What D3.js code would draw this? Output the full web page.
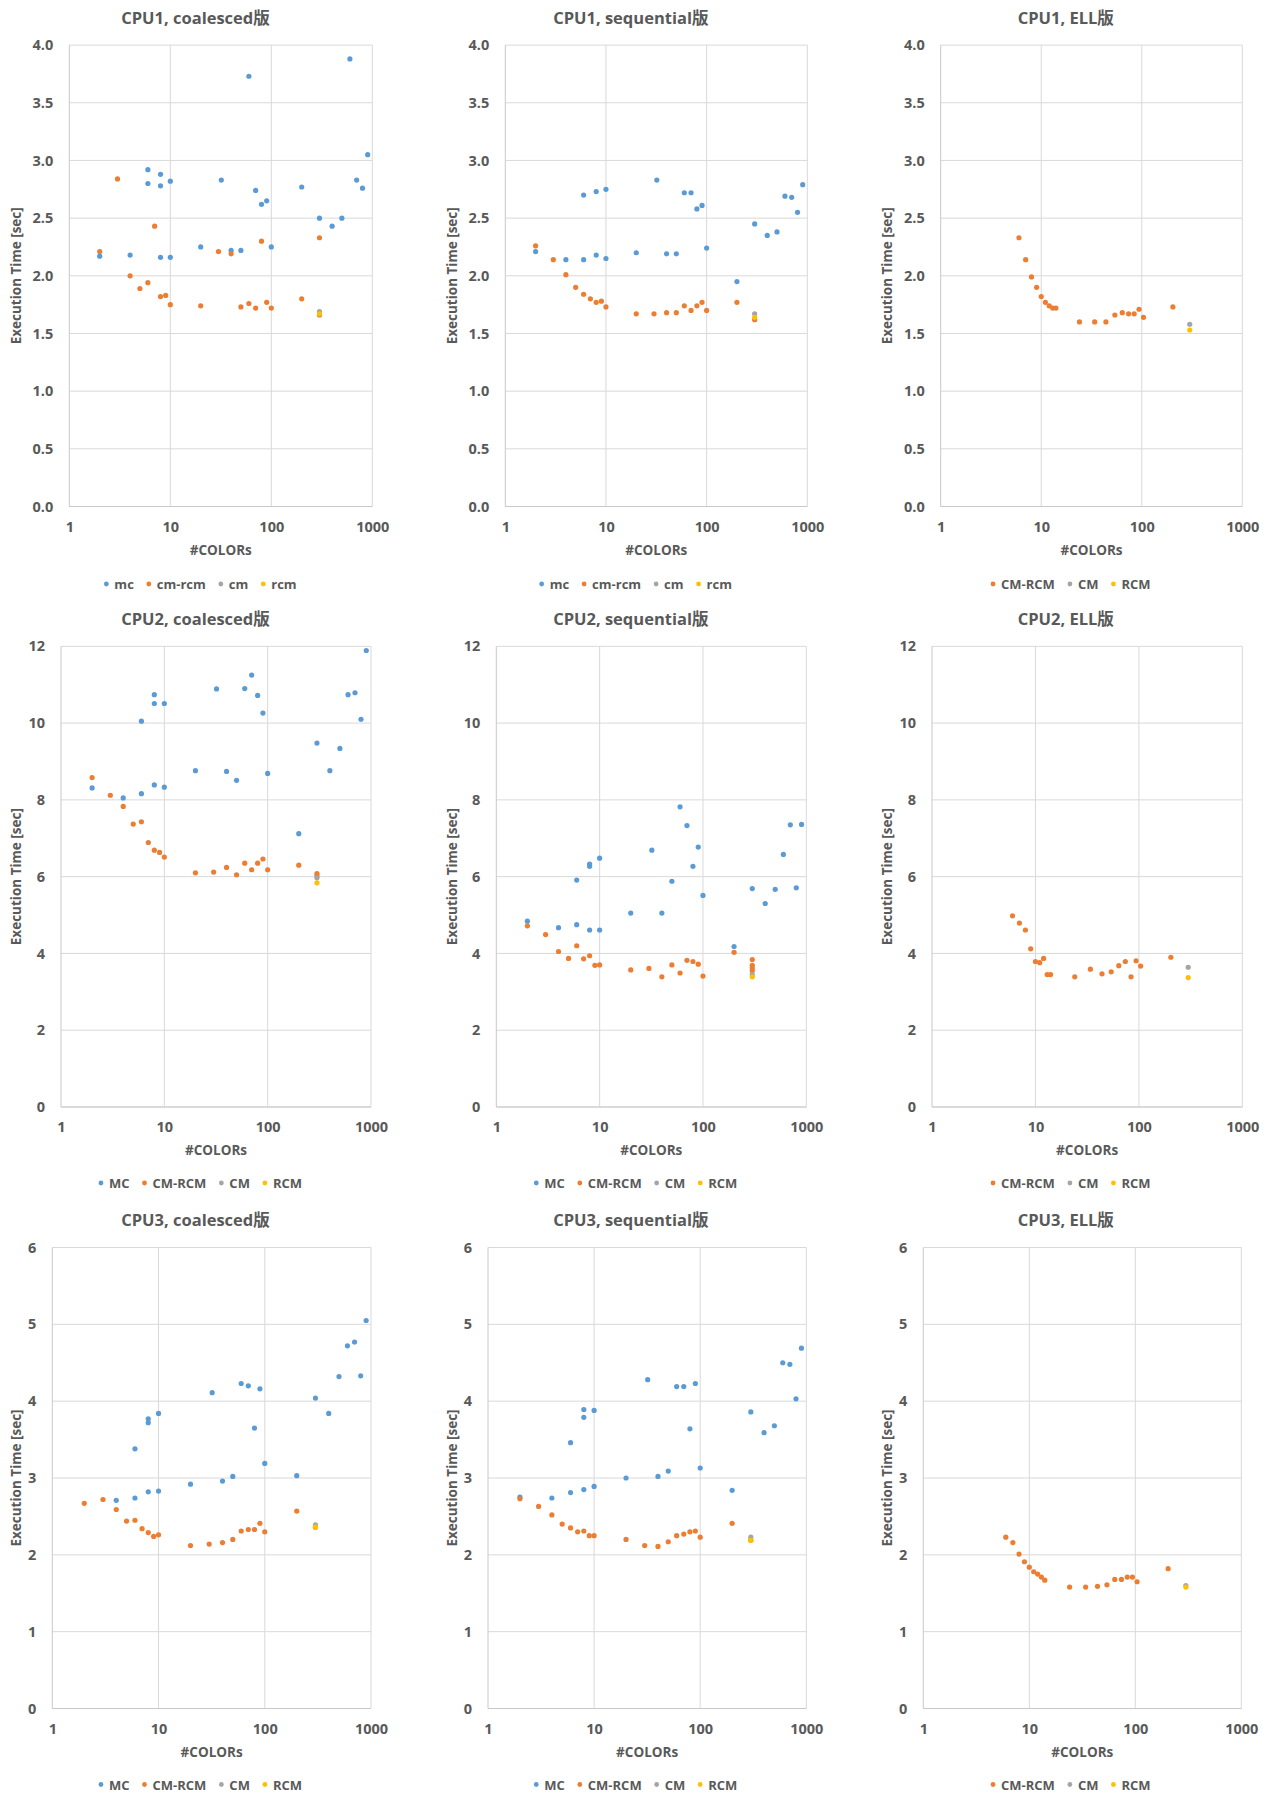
<!DOCTYPE html>
<html>
<head>
<meta charset="utf-8">
<script src="https://cdn.jsdelivr.net/npm/d3@7"></script>
<style>
  body { margin: 0; background: #fff; }
  text { font-family: "Open Sans", "Noto Sans CJK JP", sans-serif; font-weight: bold; fill: #595959; }
</style>
</head>
<body>
<svg id="chart" width="1271" height="1796"></svg>
<script>
// ---- x values (#COLORs) ----
let mcX = [2, 4, 6, 6, 8, 8, 8, 10, 10, 20, 32, 40, 50, 60, 70, 80, 90, 100, 200, 300, 400, 500, 600, 700, 800, 900];
let mcXseq1 = [2, 4, 6, 6, 8, 8, 10, 10, 20, 32, 40, 50, 60, 70, 80, 90, 100, 200, 300, 400, 500, 600, 700, 800, 900];
let mcXcoal3 = [4, 6, 6, 8, 8, 8, 10, 10, 20, 32, 40, 50, 60, 70, 80, 90, 100, 200, 300, 400, 500, 600, 700, 800, 900];
let cmRcmX = [2, 3, 4, 5, 6, 7, 8, 9, 10, 20, 30, 40, 50, 60, 70, 80, 90, 100, 200, 300];
let ellX = [6, 7, 8, 9, 10, 11, 12, 13, 14, 24, 34, 44, 54, 64, 74, 84, 94, 104, 204];
let singleX = [300];

// ---- CPU1 ----
let cpu1CoalMc = [2.17, 2.18, 2.92, 2.80, 2.88, 2.78, 2.16, 2.82, 2.16, 2.25, 2.83, 2.22, 2.22, 3.73, 2.74, 2.62, 2.65, 2.25, 2.77, 2.50, 2.43, 2.50, 3.88, 2.83, 2.76, 3.05];
let cpu1CoalCmRcm = [2.21, 2.84, 2.00, 1.89, 1.94, 2.43, 1.82, 1.83, 1.75, 1.74, 2.21, 2.19, 1.73, 1.76, 1.72, 2.30, 1.77, 1.72, 1.80, 2.33];
let cpu1CoalCmRcm300 = [1.66];
let cpu1CoalCm = [1.69];
let cpu1CoalRcm = [1.67];

let cpu1SeqMc = [2.21, 2.14, 2.70, 2.14, 2.73, 2.18, 2.75, 2.15, 2.20, 2.83, 2.19, 2.19, 2.72, 2.72, 2.58, 2.61, 2.24, 1.95, 2.45, 2.35, 2.38, 2.69, 2.68, 2.55, 2.79];
let cpu1SeqCmRcm = [2.26, 2.14, 2.01, 1.90, 1.84, 1.80, 1.77, 1.78, 1.73, 1.67, 1.67, 1.68, 1.68, 1.74, 1.70, 1.74, 1.77, 1.70, 1.77, 1.62];
let cpu1SeqCm = [1.67];
let cpu1SeqRcm = [1.64];

let cpu1EllCmRcm = [2.33, 2.14, 1.99, 1.90, 1.82, 1.77, 1.74, 1.72, 1.72, 1.60, 1.60, 1.60, 1.66, 1.68, 1.67, 1.67, 1.71, 1.64, 1.73];
let cpu1EllCm = [1.58];
let cpu1EllRcm = [1.53];

// ---- CPU2 ----
let cpu2CoalMc = [8.31, 8.05, 10.05, 8.16, 10.74, 10.51, 8.39, 10.51, 8.33, 8.76, 10.89, 8.74, 8.51, 10.90, 11.25, 10.72, 10.26, 8.69, 7.12, 9.48, 8.76, 9.34, 10.74, 10.79, 10.10, 11.89];
let cpu2CoalCmRcm = [8.58, 8.12, 7.83, 7.37, 7.43, 6.89, 6.69, 6.63, 6.51, 6.10, 6.12, 6.24, 6.05, 6.35, 6.18, 6.35, 6.46, 6.18, 6.30, 6.08];
let cpu2CoalCmRcm300 = [6.02];
let cpu2CoalCm = [5.97];
let cpu2CoalRcm = [5.84];

let cpu2SeqMc = [4.84, 4.67, 5.91, 4.75, 6.33, 6.27, 4.61, 6.48, 4.61, 5.05, 6.69, 5.05, 5.88, 7.82, 7.33, 6.27, 6.77, 5.51, 4.18, 5.69, 5.30, 5.67, 6.58, 7.35, 5.71, 7.36];
let cpu2SeqCmRcm = [4.72, 4.49, 4.05, 3.87, 4.20, 3.86, 3.94, 3.69, 3.70, 3.57, 3.61, 3.39, 3.70, 3.49, 3.82, 3.79, 3.72, 3.41, 4.03, 3.84];
let cpu2SeqCmRcm300 = [3.69, 3.62, 3.55];
let cpu2SeqCm = [3.45];
let cpu2SeqRcm = [3.39];

let cpu2EllCmRcm = [4.98, 4.79, 4.61, 4.12, 3.79, 3.76, 3.87, 3.45, 3.45, 3.39, 3.59, 3.47, 3.52, 3.68, 3.79, 3.39, 3.81, 3.67, 3.90];
let cpu2EllCm = [3.64];
let cpu2EllRcm = [3.37];

// ---- CPU3 ----
let cpu3CoalMc = [2.71, 3.38, 2.74, 3.77, 3.72, 2.82, 3.84, 2.83, 2.92, 4.11, 2.96, 3.02, 4.23, 4.20, 3.65, 4.16, 3.19, 3.03, 4.04, 3.84, 4.32, 4.72, 4.77, 4.33, 5.05];
let cpu3CoalCmRcm = [2.67, 2.72, 2.59, 2.44, 2.45, 2.34, 2.29, 2.24, 2.26, 2.12, 2.14, 2.16, 2.20, 2.31, 2.33, 2.33, 2.41, 2.30, 2.57, 2.36];
let cpu3CoalCm = [2.39];
let cpu3CoalRcm = [2.36];

let cpu3SeqMc = [2.75, 2.74, 3.46, 2.81, 3.89, 3.79, 2.85, 3.88, 2.89, 3.00, 4.28, 3.02, 3.09, 4.19, 4.19, 3.64, 4.23, 3.13, 2.84, 3.86, 3.59, 3.68, 4.50, 4.48, 4.03, 4.69];
let cpu3SeqCmRcm = [2.73, 2.63, 2.52, 2.40, 2.35, 2.30, 2.31, 2.25, 2.25, 2.20, 2.12, 2.11, 2.17, 2.25, 2.27, 2.30, 2.31, 2.23, 2.41, 2.19];
let cpu3SeqCm = [2.23];
let cpu3SeqRcm = [2.19];

let cpu3EllCmRcm = [2.23, 2.16, 2.01, 1.91, 1.84, 1.78, 1.75, 1.71, 1.67, 1.58, 1.58, 1.59, 1.61, 1.68, 1.68, 1.71, 1.71, 1.65, 1.82];
let cpu3EllCm = [1.60];
let cpu3EllRcm = [1.58];

// ---- ticks and labels ----
let xTicks = [1, 10, 100, 1000];
let yTicksRow1 = [0, 0.5, 1.0, 1.5, 2.0, 2.5, 3.0, 3.5, 4.0];
let yTicksRow2 = [0, 2, 4, 6, 8, 10, 12];
let yTicksRow3 = [0, 1, 2, 3, 4, 5, 6];
let lowerNames = ["mc", "cm-rcm", "cm", "rcm"];
let upperNames = ["MC", "CM-RCM", "CM", "RCM"];
let ellNames = ["CM-RCM", "CM", "RCM"];

let colors = ["#5B9BD5", "#ED7D31", "#A5A5A5", "#FFC000"];
let ellColors = ["#ED7D31", "#A5A5A5", "#FFC000"];

// helper to pair x/y arrays
function pts(xs, ys) { return xs.map((x, i) => ({x: x, y: ys[i]})); }

// layout: plot boxes per row/column
let rowBox = [
    {top: 45.1, bottom: 506.5, titleY: 17.2, legendY: 584},
    {top: 646.3, bottom: 1107, titleY: 618, legendY: 1183},
    {top: 1247.5, bottom: 1708.5, titleY: 1219, legendY: 1784.5}
];
let colCenter = [195.5, 630.8, 1065.8];
let yTitleX = [15.7, 452, 887];
let plotLR = [
    [[69.3, 372.3], [505.3, 807.3], [940.7, 1242.3]],
    [[61, 371], [496.3, 806.3], [932, 1242.3]],
    [[52.3, 371], [488, 806.3], [923.3, 1241.3]]
];

let fmt1 = d3.format(".1f"), fmt0 = d3.format("d");

let panels = [
    {row: 0, col: 0, title: "CPU1, coalesced版", yMax: 4, ticks: yTicksRow1, fmt: fmt1, names: lowerNames, colors: colors,
     series: [pts(mcX, cpu1CoalMc), pts(cmRcmX, cpu1CoalCmRcm).concat(pts(singleX, cpu1CoalCmRcm300)), pts(singleX, cpu1CoalCm), pts(singleX, cpu1CoalRcm)]},
    {row: 0, col: 1, title: "CPU1, sequential版", yMax: 4, ticks: yTicksRow1, fmt: fmt1, names: lowerNames, colors: colors,
     series: [pts(mcXseq1, cpu1SeqMc), pts(cmRcmX, cpu1SeqCmRcm), pts(singleX, cpu1SeqCm), pts(singleX, cpu1SeqRcm)]},
    {row: 0, col: 2, title: "CPU1, ELL版", yMax: 4, ticks: yTicksRow1, fmt: fmt1, names: ellNames, colors: ellColors,
     series: [pts(ellX, cpu1EllCmRcm), pts(singleX, cpu1EllCm), pts(singleX, cpu1EllRcm)]},
    {row: 1, col: 0, title: "CPU2, coalesced版", yMax: 12, ticks: yTicksRow2, fmt: fmt0, names: upperNames, colors: colors,
     series: [pts(mcX, cpu2CoalMc), pts(cmRcmX, cpu2CoalCmRcm).concat(pts(singleX, cpu2CoalCmRcm300)), pts(singleX, cpu2CoalCm), pts(singleX, cpu2CoalRcm)]},
    {row: 1, col: 1, title: "CPU2, sequential版", yMax: 12, ticks: yTicksRow2, fmt: fmt0, names: upperNames, colors: colors,
     series: [pts(mcX, cpu2SeqMc), pts(cmRcmX, cpu2SeqCmRcm).concat(cpu2SeqCmRcm300.map(v => ({x: 300, y: v}))), pts(singleX, cpu2SeqCm), pts(singleX, cpu2SeqRcm)]},
    {row: 1, col: 2, title: "CPU2, ELL版", yMax: 12, ticks: yTicksRow2, fmt: fmt0, names: ellNames, colors: ellColors,
     series: [pts(ellX, cpu2EllCmRcm), pts(singleX, cpu2EllCm), pts(singleX, cpu2EllRcm)]},
    {row: 2, col: 0, title: "CPU3, coalesced版", yMax: 6, ticks: yTicksRow3, fmt: fmt0, names: upperNames, colors: colors,
     series: [pts(mcXcoal3, cpu3CoalMc), pts(cmRcmX, cpu3CoalCmRcm), pts(singleX, cpu3CoalCm), pts(singleX, cpu3CoalRcm)]},
    {row: 2, col: 1, title: "CPU3, sequential版", yMax: 6, ticks: yTicksRow3, fmt: fmt0, names: upperNames, colors: colors,
     series: [pts(mcX, cpu3SeqMc), pts(cmRcmX, cpu3SeqCmRcm), pts(singleX, cpu3SeqCm), pts(singleX, cpu3SeqRcm)]},
    {row: 2, col: 2, title: "CPU3, ELL版", yMax: 6, ticks: yTicksRow3, fmt: fmt0, names: ellNames, colors: ellColors,
     series: [pts(ellX, cpu3EllCmRcm), pts(singleX, cpu3EllCm), pts(singleX, cpu3EllRcm)]}
];

let svg = d3.select("#chart");

function drawPanel(p) {
    let rb = rowBox[p.row];
    let lr = plotLR[p.row][p.col];
    let left = lr[0], right = lr[1], top = rb.top, bottom = rb.bottom;

    let xScale = d3.scaleLog()
                    .domain([1, 1000])
                    .range([left, right]);
    let yScale = d3.scaleLinear()
                    .domain([0, p.yMax])
                    .range([bottom, top]);

    let g = svg.append("g");

    // gridlines
    g.selectAll(".hgrid")
        .data(p.ticks)
        .enter()
        .append("line")
          .attr("x1", left)
          .attr("x2", right)
          .attr("y1", d => yScale(d))
          .attr("y2", d => yScale(d))
          .attr("stroke", "#D9D9D9")
          .attr("stroke-width", 1);
    g.selectAll(".vgrid")
        .data(xTicks)
        .enter()
        .append("line")
          .attr("x1", d => xScale(d))
          .attr("x2", d => xScale(d))
          .attr("y1", top)
          .attr("y2", bottom)
          .attr("stroke", d => d == 1 ? "#C8C8C8" : "#D9D9D9")
          .attr("stroke-width", 1);
    g.append("line")
        .attr("x1", left).attr("x2", right)
        .attr("y1", bottom).attr("y2", bottom)
        .attr("stroke", "#C8C8C8");

    // axes (labels only)
    let xAxis = d3.axisBottom(xScale)
                    .tickValues(xTicks)
                    .tickFormat(fmt0)
                    .tickSize(0)
                    .tickPadding(15);
    let xg = g.append("g")
        .attr("transform", "translate(0," + bottom + ")")
        .call(xAxis);
    xg.select(".domain").remove();
    xg.selectAll("text").style("font-size", "14.5px").attr("fill", "#595959");

    let yAxis = d3.axisLeft(yScale)
                    .tickValues(p.ticks)
                    .tickFormat(p.fmt)
                    .tickSize(0)
                    .tickPadding(16);
    let yg = g.append("g")
        .attr("transform", "translate(" + left + ",0)")
        .call(yAxis);
    yg.select(".domain").remove();
    yg.selectAll("text").style("font-size", "14.5px").attr("fill", "#595959");

    // titles
    g.append("text")
        .attr("x", colCenter[p.col])
        .attr("y", rb.titleY)
        .attr("dominant-baseline", "central")
        .style("text-anchor", "middle")
        .style("font-size", "16.5px")
        .text(p.title);
    g.append("text")
        .attr("x", (left + right) / 2)
        .attr("y", bottom + 43)
        .attr("dominant-baseline", "central")
        .style("text-anchor", "middle")
        .style("font-size", "13.5px")
        .text("#COLORs");
    g.append("text")
        .attr("transform", "translate(" + yTitleX[p.col] + "," + ((top + bottom) / 2) + ") rotate(-90)")
        .attr("dominant-baseline", "central")
        .style("text-anchor", "middle")
        .style("font-size", "13.5px")
        .text("Execution Time [sec]");

    // points
    p.series.forEach((s, i) => {
        g.selectAll(null)
            .data(s)
            .enter()
            .append("circle")
              .attr("cx", d => xScale(d.x))
              .attr("cy", d => yScale(d.y))
              .attr("r", 2.6)
              .attr("fill", p.colors[i]);
    });

    // legend
    let lg = g.append("g");
    let cx = 0;
    p.names.forEach((name, i) => {
        lg.append("circle")
            .attr("cx", cx)
            .attr("cy", 0)
            .attr("r", 2.4)
            .attr("fill", p.colors[i]);
        let t = lg.append("text")
            .attr("x", cx + 8)
            .attr("y", 0)
            .attr("dominant-baseline", "central")
            .style("font-size", "13px")
            .text(name);
        cx += 8 + t.node().getComputedTextLength() + 15;
    });
    let legendWidth = cx - 15 + 2;
    lg.attr("transform", "translate(" + (colCenter[p.col] + 7 - legendWidth / 2) + "," + rb.legendY + ")");
}

panels.forEach(drawPanel);
</script>
</body>
</html>
